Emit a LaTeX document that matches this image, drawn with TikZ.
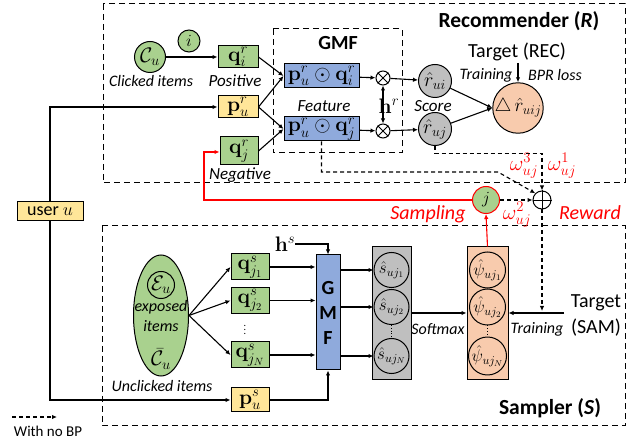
\RequirePackage{fix-cm}
\documentclass[tikz,border=0pt]{standalone}
\usepackage{amsmath,amssymb}
\usepackage[no-math]{fontspec}
\setmainfont{Carlito}
\usetikzlibrary{arrows.meta,shapes.geometric,calc}
\definecolor{cgreen}{HTML}{A9D18E}
\definecolor{cyellow}{HTML}{FFE699}
\definecolor{cblue}{HTML}{8FAADC}
\definecolor{cgray}{HTML}{BFBFBF}
\definecolor{cpeach}{HTML}{F8CBAD}
\definecolor{cred}{HTML}{FF0000}
\begin{document}
\begin{tikzpicture}[x=1pt,y=-1pt,
  >={Latex[length=5pt,width=4.5pt]},
  box/.style={draw, line width=1pt, inner sep=0pt, font=\fontsize{21}{23}\selectfont},
  gbox/.style={box, fill=cgreen},
  ybox/.style={box, fill=cyellow},
  bbox/.style={box, fill=cblue},
  circ/.style={draw, circle, line width=1pt, inner sep=0pt, font=\fontsize{21}{23}\selectfont},
  sc/.style={circ, minimum size=35pt, font=\fontsize{17}{19}\selectfont},
  lab/.style={font=\fontsize{17}{19}\selectfont\itshape, inner sep=0pt},
  lab2/.style={font=\fontsize{16}{18}\selectfont\itshape, inner sep=0pt},
  slab/.style={font=\fontsize{16}{18}\selectfont\itshape, inner sep=0pt},
  title/.style={font=\fontsize{21.5}{24}\selectfont\bfseries, inner sep=0pt},
  rlab/.style={text=cred, font=\fontsize{20}{22}\selectfont\itshape, inner sep=0pt},
  wlab/.style={text=cred, font=\fontsize{21}{23}\selectfont, inner sep=0pt},
  dbox/.style={draw, line width=1pt, dash pattern=on 6pt off 4pt},
  conn/.style={->, line width=1.1pt},
  nobp/.style={->, line width=1.1pt, dash pattern=on 4pt off 3pt},
  redc/.style={->, line width=1.1pt, draw=cred},
  op/.style={draw, circle, line width=1pt, inner sep=0pt, fill=white}
]
\useasboundingbox (0,0) rectangle (632,443);

% dashed frames
\draw[dbox] (103,4) rectangle (625,183);
\draw[dbox] (102,226) rectangle (625,426);
\draw[dbox] (273,29) rectangle (402,153);

% ---------------- Recommender ----------------
\node[title] (reclab) at (519,21) {Recommender (\textit{R})};
\node[font=\fontsize{20}{22}\selectfont\bfseries, inner sep=0pt] (gmflab) at (338,43) {GMF};

\node[circ, fill=cgreen, minimum size=31pt] (cu) at (150,57) {$\mathcal{C}_u$};
\node[circ, fill=cgreen, minimum size=22pt, font=\fontsize{17}{19}\selectfont] (icirc) at (189,41) {$i$};
\node[lab2] (clk) at (151,81) {Clicked items};

\node[gbox, minimum width=40pt, minimum height=22pt] (qir) at (238,57) {$\mathbf{q}_i^r$};
\node[lab] (pos) at (235,81) {Positive};
\node[ybox, minimum width=40pt, minimum height=22pt] (pur) at (238,107) {$\mathbf{p}_u^r$};
\node[gbox, minimum width=38pt, minimum height=28pt] (qjr) at (239,151) {$\mathbf{q}_j^r$};
\node[lab] (neg) at (240,175) {Negative};

\node[ybox, minimum width=66pt, minimum height=19pt, font=\fontsize{18}{20}\selectfont] (user) at (50,211.5) {user $u$};

\node[bbox, minimum width=75pt, minimum height=24pt] (f1) at (321.5,76) {$\mathbf{p}_u^r\odot\mathbf{q}_i^r$};
\node[bbox, minimum width=75pt, minimum height=24pt] (f2) at (321.5,129) {$\mathbf{p}_u^r\odot\mathbf{q}_j^r$};
\node[lab] (feat) at (324,106) {Feature};

\node[op, minimum size=14pt] (o1) at (383,78) {};
\node[op, minimum size=14pt] (o2) at (383,131) {};
\draw[line width=0.9pt] (o1.45) -- (o1.225) (o1.135) -- (o1.315);
\draw[line width=0.9pt] (o2.45) -- (o2.225) (o2.135) -- (o2.315);
\node[font=\fontsize{21}{23}\selectfont, inner sep=0pt] (hr) at (389,106) {$\mathbf{h}^r$};

\node[circ, fill=cgray, minimum size=33pt, font=\fontsize{20}{22}\selectfont] (rui) at (435,81) {$\hat{r}_{ui}$};
\node[circ, fill=cgray, minimum size=33pt, font=\fontsize{20}{22}\selectfont] (ruj) at (435,129) {$\hat{r}_{uj}$};
\node[lab] (score) at (433,106) {Score};

\node[circ, fill=cpeach, minimum size=47pt, font=\fontsize{19}{21}\selectfont] (tgt) at (518,108) {$\triangle\,\hat{r}_{uij}$};
\node[font=\fontsize{20}{22}\selectfont, inner sep=0pt] (tgtlab) at (517,52) {Target (REC)};
\node[slab] (trn1) at (486,75) {Training};
\node[slab] (bpr) at (555,75) {BPR loss};
\coordinate (tgtin) at (518,63);

\node[op, minimum size=18pt] (oplus) at (542,200) {};
\draw[line width=0.9pt] (oplus.north) -- (oplus.south) (oplus.east) -- (oplus.west);

\node[circ, fill=cgreen, draw=cred, minimum size=27pt, font=\fontsize{17}{19}\selectfont] (jc) at (486,200) {$j$};
\node[wlab] (w3) at (524,166) {$\omega_{uj}^{3}$};
\node[wlab] (w1) at (562,166) {$\omega_{uj}^{1}$};
\node[wlab] (w2) at (517,215) {$\omega_{uj}^{2}$};
\node[rlab] (samp) at (428,214) {Sampling};
\node[rlab] (rew) at (590,213) {Reward};

% connectors recommender
\draw[conn] (cu) -- (qir);
\draw[conn] (user.north) |- (pur.west);
\draw[conn] (qir.east) -- (f1.west);
\draw[conn] (pur.east) -- (f1.west);
\draw[conn] (pur.east) -- (f2.west);
\draw[conn] (qjr.east) -- (f2.west);
\draw[conn] (f1) -- (o1);
\draw[conn] (f2) -- (o2);
\draw[conn] (o1) -- (rui);
\draw[conn] (o2) -- (ruj);
\draw[<->, line width=1.1pt] (o1) -- (o2);
\draw[conn] (rui) -- (tgt.west);
\draw[conn] (ruj) -- (tgt.west);
\draw[conn] (tgtin) -- (tgt.north);

\coordinate (d1) at (321.5,172);
\coordinate (d2) at (498,172);
\draw[nobp] (ruj.south) -- ++(0,7.5) -| (oplus.north);
\draw[nobp] (f2.south) -- (d1) -- (d2) -- (oplus.north west);
\draw[nobp] (jc.east) -- (oplus.west);
\coordinate (rc) at (204,152);
\draw[redc] (jc.west) -| (rc) -- (qjr.west |- rc);

% ---------------- Sampler ----------------
\node[title] (samplab) at (550,408) {Sampler (\textit{S})};

\node[draw, ellipse, line width=1pt, fill=cgreen, minimum width=55pt, minimum height=121pt] (ell) at (161,315.5) {};
\node[circ, fill=cgreen, minimum size=27pt] (eu) at (161,285) {$\mathcal{E}_u$};
\node[lab2] (exp) at (161,307) {exposed};
\node[lab2] (itm) at (161,326) {items};
\node[font=\fontsize{21}{23}\selectfont, inner sep=0pt] (cbar) at (161,359) {$\bar{\mathcal{C}}_u$};
\node[lab2] (uncl) at (162,386) {Unclicked items};

\node[gbox, minimum width=38pt, minimum height=26pt] (qs1) at (250,267) {$\mathbf{q}_{j_1}^s$};
\node[gbox, minimum width=38pt, minimum height=26pt] (qs2) at (250,300.5) {$\mathbf{q}_{j_2}^s$};
\node[gbox, minimum width=38pt, minimum height=26pt] (qsN) at (250,355) {$\mathbf{q}_{j_N}^s$};
\node[font=\fontsize{10}{11}\selectfont, inner sep=0pt] (vd1) at (245,327) {$\vdots$};
\node[ybox, minimum width=38pt, minimum height=24pt] (pus) at (250,400) {$\mathbf{p}_u^s$};

\node[bbox, minimum width=24pt, minimum height=115pt, align=center, font=\fontsize{20}{25}\selectfont\bfseries] (gmfs) at (328,312.5) {G\\M\\F};
\node[font=\fontsize{21}{23}\selectfont, inner sep=0pt] (hs) at (285,244) {$\mathbf{h}^s$};

\node[box, fill=cgray, minimum width=39pt, minimum height=133pt] (gbx) at (391.5,313.5) {};
\node[sc, fill=cgray] (s1) at (391.5,270) {$\hat{s}_{uj_1}$};
\node[sc, fill=cgray] (s2) at (391.5,307) {$\hat{s}_{uj_2}$};
\node[sc, fill=cgray] (sN) at (391.5,356) {$\hat{s}_{uj_N}$};
\draw[dotted, line width=0.8pt] (s2.south) -- (sN.north);

\node[box, fill=cpeach, minimum width=41pt, minimum height=133pt] (pbx) at (487.5,313.5) {};
\node[sc, fill=cpeach, minimum size=36pt] (p1) at (487.5,270) {$\hat{\psi}_{uj_1}$};
\node[sc, fill=cpeach, minimum size=36pt] (p2) at (487.5,307) {$\hat{\psi}_{uj_2}$};
\node[sc, fill=cpeach, minimum size=36pt] (pN) at (487.5,356) {$\hat{\psi}_{uj_N}$};
\draw[dotted, line width=0.8pt] (p2.south) -- (pN.north);

\node[slab] (softlab) at (438,329) {Softmax};
\node[font=\fontsize{20}{26}\selectfont, align=center, inner sep=0pt] (tsam) at (596,315) {Target\\(SAM)};
\node[slab] (trn2) at (537,329) {Training};
\node[font=\fontsize{15}{17}\selectfont, inner sep=0pt] (nobplab) at (48,431) {With no BP};

% connectors sampler
\draw[conn] (user.south) |- (pus.west);
\draw[conn] (ell.east) -- (qs1.west);
\draw[conn] (ell.east) -- (qs2.west);
\draw[conn] (ell.east) -- (qsN.west);
\draw[conn] (qs1.east) -- (gmfs.west |- qs1);
\draw[conn] (qs2.east) -- (gmfs.west |- qs2);
\draw[conn] (qsN.east) -- (gmfs.west |- qsN);
\draw[conn] (hs.east) -| (gmfs.north);
\draw[conn] (pus.east) -| (gmfs.south);
\draw[conn] (gmfs.east |- s1) -- (s1.west);
\draw[conn] (gmfs.east |- s2) -- (s2.west);
\draw[conn] (gmfs.east |- sN) -- (sN.west);
\coordinate (sm) at (411,313);
\draw[conn] (sm) -- (pbx.west |- sm);
\coordinate (tsst) at (564,313);
\draw[conn] (tsst) -- (pbx.east |- tsst);
\draw[redc] (pbx.north) -- (jc.south);
\coordinate (dtip) at (542,311);
\draw[nobp] (oplus.south) -- (dtip);

\coordinate (nb1) at (12,417);
\coordinate (nb2) at (57,417);
\draw[nobp] (nb1) -- (nb2);
\end{tikzpicture}
\end{document}
